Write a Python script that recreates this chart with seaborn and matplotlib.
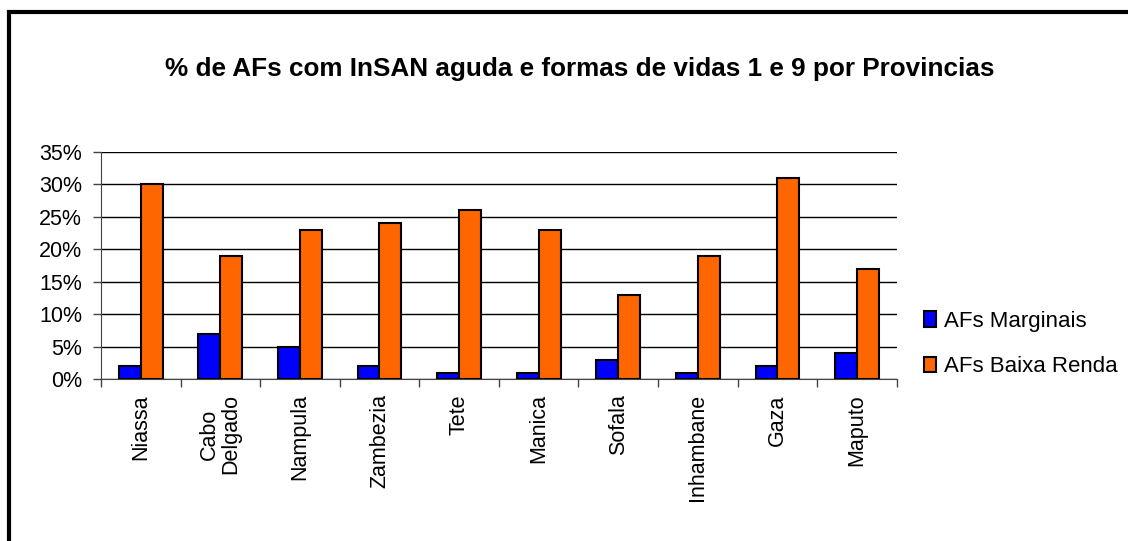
import pandas as pd
import matplotlib
matplotlib.use("Agg")
import matplotlib.pyplot as plt
from matplotlib.patches import Rectangle
from matplotlib.ticker import FixedLocator, PercentFormatter
import seaborn as sns

provincias = ["Niassa", "Cabo\nDelgado", "Nampula", "Zambezia", "Tete",
              "Manica", "Sofala", "Inhambane", "Gaza", "Maputo"]
marginais = [2, 7, 5, 2, 1, 1, 3, 1, 2, 4]
baixa_renda = [30, 19, 23, 24, 26, 23, 13, 19, 31, 17]
series = ["AFs Marginais", "AFs Baixa Renda"]
cores = {"AFs Marginais": "#0000FF", "AFs Baixa Renda": "#FF6600"}

df = pd.DataFrame({
    "provincia": provincias * 2,
    "serie": [series[0]] * len(provincias) + [series[1]] * len(provincias),
    "valor": marginais + baixa_renda,
})

sns.set_style("white")
plt.rcParams["font.family"] = ["Liberation Sans", "DejaVu Sans"]
plt.rcParams["text.color"] = "black"
plt.rcParams["xtick.color"] = "black"
plt.rcParams["ytick.color"] = "black"

fig = plt.figure(figsize=(11.28, 5.41), dpi=100)
ax = fig.add_axes([0.0895, 0.2994, 0.7055, 0.4196])

sns.barplot(data=df, x="provincia", y="valor", hue="serie", palette=cores,
            saturation=1, width=0.55, edgecolor="black", linewidth=1.5,
            ax=ax, zorder=3)

ax.set_ylim(0, 35)
ax.set_xlim(-0.5, len(provincias) - 0.5)
ax.yaxis.set_major_locator(FixedLocator(range(0, 36, 5)))
ax.yaxis.set_major_formatter(PercentFormatter(decimals=0))
ax.grid(axis="y", color="black", linewidth=1, zorder=0)
ax.set_axisbelow(True)
for s in ["top", "right"]:
    ax.spines[s].set_visible(False)
ax.spines["left"].set_color("#444444")
ax.spines["bottom"].set_color("#444444")

ax.set_xticks(range(len(provincias)))
ax.set_xticklabels(provincias, rotation=90, fontsize=15.5, linespacing=1.0)
ax.xaxis.set_minor_locator(FixedLocator([i + 0.5 for i in range(-1, len(provincias))]))
ax.tick_params(axis="x", which="major", length=0, pad=11)
ax.tick_params(axis="x", which="minor", length=6, width=1, color="#444444",
               direction="out", bottom=True)
ax.tick_params(axis="y", length=6, width=1, color="#444444", direction="out",
               left=True, labelsize=15.5, pad=7.5)
ax.set_xlabel("")
ax.set_ylabel("")

ax.legend(loc="center left", bbox_to_anchor=(1.009, 0.154), frameon=False,
          fontsize=16, handlelength=0.55, handleheight=0.7, handletextpad=0.35,
          labelspacing=1.1)

fig.text(0.514, 0.872, "% de AFs com InSAN aguda e formas de vidas 1 e 9 por Provincias",
         ha="center", va="center", fontsize=18.8, fontweight="bold")

fig.patches.append(Rectangle((0.008, -0.1), 1.2, 1.078, transform=fig.transFigure,
                             fill=False, edgecolor="black", linewidth=3))

fig.savefig("out.png", dpi=100)
